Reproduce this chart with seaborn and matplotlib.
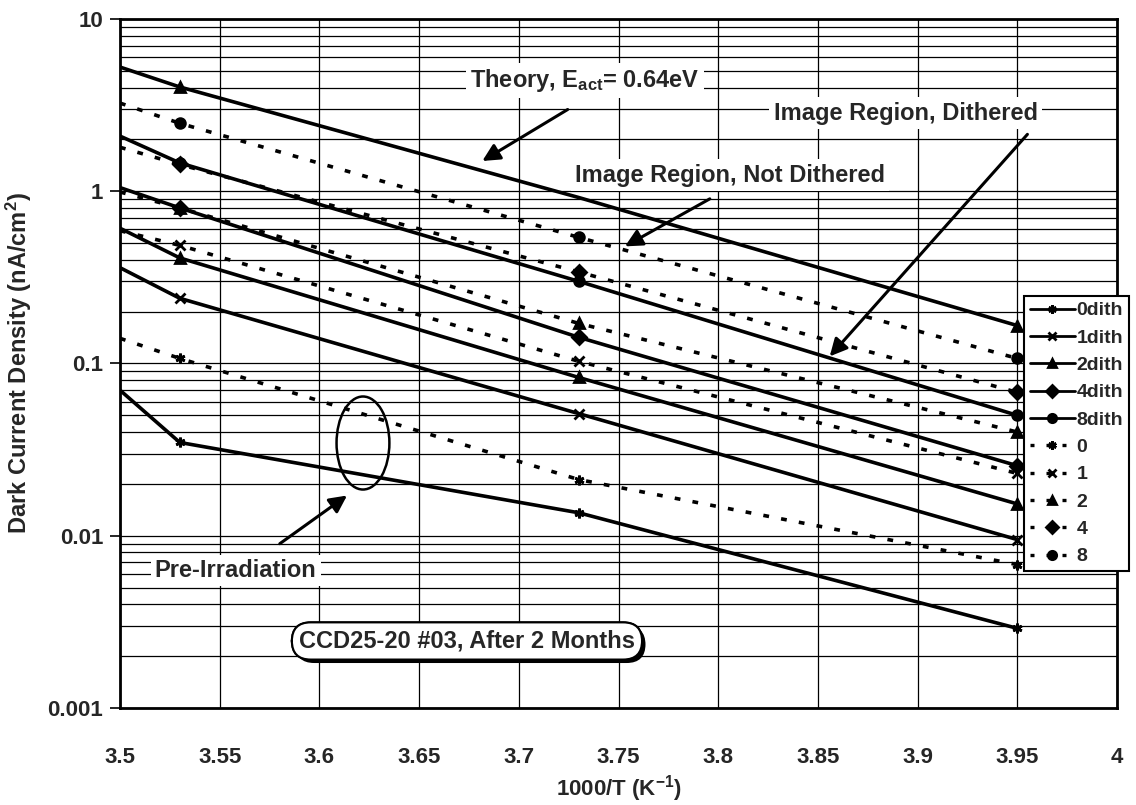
import matplotlib
matplotlib.use("Agg")
import matplotlib.pyplot as plt
import matplotlib.patheffects as pe
from matplotlib.lines import Line2D
from matplotlib.patches import Ellipse
from matplotlib.ticker import LogLocator, FixedLocator, NullFormatter
import seaborn as sns

# 1000/T positions of the measurements (left edge of plot, then 10C, -5C, -20C)
inv_temp = [3.5, 3.53, 3.73, 3.95]

# (nA/cm^2)
theory = [5.26, 4.03, 0.92, 0.166]
dith_0 = [0.070, 0.0348, 0.0136, 0.0029]
dith_1 = [0.36, 0.239, 0.0512, 0.0095]
dith_2 = [0.61, 0.41, 0.083, 0.0153]
dith_4 = [1.05, 0.80, 0.142, 0.0255]
dith_8 = [2.09, 1.46, 0.30, 0.050]
nodith_0 = [0.14, 0.107, 0.0212, 0.0068]
nodith_1 = [0.59, 0.485, 0.103, 0.023]
nodith_2 = [0.99, 0.80, 0.171, 0.040]
nodith_4 = [1.80, 1.43, 0.34, 0.068]
nodith_8 = [3.25, 2.48, 0.54, 0.107]

labels_dith = ["0dith", "1dith", "2dith", "4dith", "8dith"]
labels_nodith = ["0", "1", "2", "4", "8"]
markers = [(6, 2, 0), "x", "^", "D", "o"]

x_ticks = [3.5, 3.55, 3.6, 3.65, 3.7, 3.75, 3.8, 3.85, 3.9, 3.95, 4.0]
x_ticklabels = ["3.5", "3.55", "3.6", "3.65", "3.7", "3.75", "3.8", "3.85", "3.9", "3.95", "4"]
y_ticks = [0.001, 0.01, 0.1, 1, 10]
y_ticklabels = ["0.001", "0.01", "0.1", "1", "10"]

sns.set_theme(style="white")
plt.rcParams["font.family"] = ["Liberation Sans", "DejaVu Sans"]
plt.rcParams["font.weight"] = "bold"
plt.rcParams["mathtext.fontset"] = "custom"
plt.rcParams["mathtext.rm"] = "Liberation Sans:bold"
plt.rcParams["mathtext.bf"] = "Liberation Sans:bold"
plt.rcParams["mathtext.it"] = "Liberation Sans:bold"
plt.rcParams["mathtext.default"] = "bf"

fig = plt.figure(figsize=(11.36, 8.05), dpi=100)
ax = fig.add_axes([120 / 1136, 1 - 708 / 805, 997 / 1136, 689 / 805])

dash = (0, (1.6, 3.4))
lw = 2.6
mk = dict(ms=7, mew=2, mec="black", mfc="black")

# theory line
sns.lineplot(x=inv_temp, y=theory, ax=ax, color="black", lw=lw, marker="^",
             markevery=[1, 3], legend=False, **mk)

for vals, m in zip([dith_0, dith_1, dith_2, dith_4, dith_8], markers):
    sns.lineplot(x=inv_temp, y=vals, ax=ax, color="black", lw=lw, marker=m,
                 markevery=[1, 2, 3], legend=False, **mk)

for vals, m in zip([nodith_0, nodith_1, nodith_2, nodith_4, nodith_8], markers):
    sns.lineplot(x=inv_temp, y=vals, ax=ax, color="black", lw=lw, linestyle=dash,
                 marker=m, markevery=[1, 2, 3], legend=False, **mk)

ax.set_yscale("log")
ax.set_xlim(3.5, 4.0)
ax.set_ylim(0.001, 10)

ax.xaxis.set_major_locator(FixedLocator(x_ticks))
ax.set_xticklabels(x_ticklabels)
ax.yaxis.set_major_locator(FixedLocator(y_ticks))
ax.set_yticklabels(y_ticklabels)
ax.yaxis.set_minor_locator(LogLocator(base=10, subs=range(2, 10)))
ax.yaxis.set_minor_formatter(NullFormatter())

ax.grid(which="major", axis="x", color="black", lw=0.9)
ax.grid(which="both", axis="y", color="black", lw=0.9)
ax.set_axisbelow(True)
for s in ax.spines.values():
    s.set_color("black")
    s.set_linewidth(2)

ax.tick_params(axis="x", which="both", length=0, pad=28, labelsize=16)
ax.tick_params(axis="y", which="major", length=7, width=1.2, color="black",
               direction="out", left=True, pad=5, labelsize=16)
ax.tick_params(axis="y", which="minor", length=0)
for t in ax.get_xticklabels() + ax.get_yticklabels():
    t.set_fontweight("bold")

ax.set_xlabel(r"1000/T (K$^{-1}$)", fontsize=16, fontweight="bold", labelpad=4)
ax.set_ylabel(r"Dark Current Density (nA/cm$^{2}$)", fontsize=17, fontweight="bold", labelpad=10)

box = dict(facecolor="white", edgecolor="none", pad=3)
arrow = dict(arrowstyle="-|>", color="black", lw=2.2, mutation_scale=26)

ax.text(3.733, 4.4, r"Theory, E$_{act}$= 0.64eV", fontsize=17, ha="center", va="center",
        bbox=box, zorder=5)
ax.annotate("", xy=(3.6805, 1.47), xytext=(3.7257, 3.04), arrowprops=arrow, zorder=6)

ax.text(3.894, 2.84, "Image Region, Dithered", fontsize=17, ha="center", va="center",
        bbox=box, zorder=5)
ax.annotate("", xy=(3.855, 0.107), xytext=(3.956, 2.2), arrowprops=arrow, zorder=6)

ax.text(3.806, 1.24, "Image Region, Not Dithered", fontsize=17, ha="center", va="center",
        bbox=box, zorder=5)
ax.annotate("", xy=(3.752, 0.47), xytext=(3.797, 0.92), arrowprops=arrow, zorder=6)

ax.text(3.558, 0.0063, "Pre-Irradiation", fontsize=17, ha="center", va="center",
        bbox=box, zorder=5)
ax.annotate("", xy=(3.615, 0.0175), xytext=(3.579, 0.0088), arrowprops=arrow, zorder=6)

ax.add_patch(Ellipse((0.2437, 0.3846), 0.053, 0.135, transform=ax.transAxes,
                     facecolor="none", edgecolor="black", lw=1.8, zorder=6))

t = ax.text(3.674, 0.00245, "CCD25-20 #03, After 2 Months", fontsize=17, ha="center",
            va="center", zorder=6,
            bbox=dict(boxstyle="round,pad=0.3,rounding_size=0.8", facecolor="white",
                      edgecolor="black", lw=1.5))
t.get_bbox_patch().set_path_effects([
    pe.withSimplePatchShadow(offset=(2.5, -2.5), shadow_rgbFace="black", alpha=1),
    pe.Normal()])

handles = []
for lab, m in zip(labels_dith, markers):
    handles.append(Line2D([], [], color="black", lw=2, marker=m, ms=6, mew=2, label=lab))
for lab, m in zip(labels_nodith, markers):
    handles.append(Line2D([], [], color="black", lw=2.4, linestyle=(0, (1.2, 3.6)),
                          marker=m, ms=6, mew=2, label=lab))
leg = fig.legend(handles=handles, loc="upper left",
                 bbox_to_anchor=(1024 / 1136, 1 - 296 / 805), frameon=True,
                 fancybox=False, framealpha=1, edgecolor="black", fontsize=14,
                 handlelength=2.3, handletextpad=0.1, labelspacing=0.5,
                 borderpad=0.3, borderaxespad=0)
leg.get_frame().set_linewidth(1.5)
for txt in leg.get_texts():
    txt.set_fontweight("bold")

fig.savefig("out.png", dpi=100)
